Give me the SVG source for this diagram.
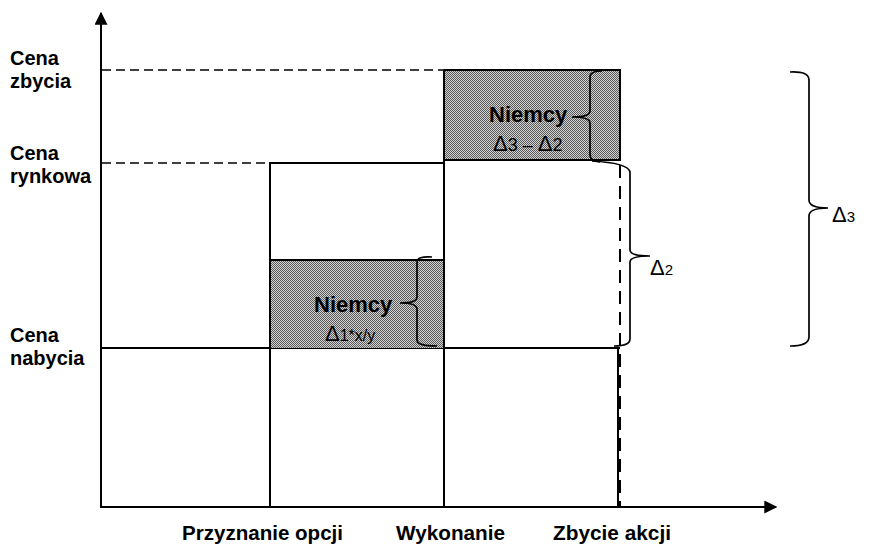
<svg xmlns="http://www.w3.org/2000/svg" width="877" height="546" viewBox="0 0 877 546">
  <style>
    .ln { stroke: #000; stroke-width: 2; fill: none; }
    .dash { stroke: #000; stroke-width: 1.3; fill: none; stroke-dasharray: 9 5; }
    .brace { stroke: #000; stroke-width: 1.7; fill: none; }
    .lbl { font-family: "Liberation Sans", Arial, sans-serif; font-weight: bold; font-size: 20px; fill: #000; }
    .axl { font-family: "Liberation Sans Narrow", "Liberation Sans", Arial, sans-serif; font-weight: bold; font-size: 20px; fill: #000; }
    .nm { font-family: "Liberation Sans", Arial, sans-serif; font-weight: bold; font-size: 22px; fill: #000; }
    .dl { font-family: "Liberation Sans", Arial, sans-serif; font-size: 22px; fill: #000; }
    .sub { font-size: 15px; }
    .big { font-size: 18px; }
    .mid { font-size: 16px; }
  </style>
  <defs>
    <pattern id="dither" width="2" height="2" patternUnits="userSpaceOnUse">
      <rect width="2" height="2" fill="#d2d2d2"/>
      <rect width="1" height="1" fill="#5a5a5a"/>
      <rect x="1" y="1" width="1" height="1" fill="#5a5a5a"/>
    </pattern>
    <marker id="arr" viewBox="0 0 10 10" refX="9" refY="5" markerWidth="6.5" markerHeight="6.5" orient="auto" markerUnits="strokeWidth">
      <path d="M0,0 L10,5 L0,10 Z" fill="#000"/>
    </marker>
  </defs>

  <!-- axes -->
  <g id="axes">
    <line class="ln" x1="101" y1="507" x2="101" y2="13" marker-end="url(#arr)"/>
    <line class="ln" x1="100" y1="507" x2="776" y2="507" marker-end="url(#arr)"/>
  </g>

  <!-- price levels -->
  <g id="levels">
    <line class="dash" x1="102" y1="70" x2="444" y2="70"/>
    <line class="dash" x1="102" y1="163" x2="270" y2="163"/>
    <line class="ln" x1="101" y1="348" x2="620" y2="348"/>
  </g>

  <!-- option grant block -->
  <g id="grant">
    <rect x="270" y="260" width="174" height="88" fill="url(#dither)"/>
    <polyline class="ln" points="270,507 270,163 444,163"/>
    <line class="ln" x1="270" y1="260" x2="444" y2="260"/>
  </g>

  <!-- exercise block -->
  <g id="exercise">
    <rect x="444" y="70" width="176" height="90" fill="url(#dither)"/>
    <line class="ln" x1="444" y1="70" x2="444" y2="507"/>
    <polyline class="ln" points="444,70 620,70 620,160 444,160"/>
    <line class="ln" x1="618" y1="348" x2="618" y2="507"/>
    <line class="ln" x1="620" y1="165" x2="620" y2="507" stroke-dasharray="13 8"/>
  </g>

  <!-- braces -->
  <g id="braces">
    <path class="brace" d="M432,257 Q417,256 417,262 L417,297 Q417,303 400,303 Q417,303 417,309 L417,340 Q417,346 437,346"/>
    <path class="brace" d="M602,71 Q590,71 590,77 L590,111 Q590,117 572,117 Q590,117 590,123 L590,155 Q590,161 600,162"/>
    <path class="brace" d="M592,161 Q628,163 630,172 L630,250 Q630,256 650,256 Q630,256 630,262 L630,339 Q630,346 614,346"/>
    <path class="brace" d="M790,72 Q809,71 809,80 L809,200 Q809,208 828,208 Q809,208 809,216 L809,337 Q809,346 790,346"/>
  </g>

  <!-- labels -->
  <g id="labels">
    <text class="lbl" x="10" y="65">Cena</text>
    <text class="lbl" x="10" y="88">zbycia</text>
    <text class="lbl" x="10" y="160">Cena</text>
    <text class="lbl" x="10" y="183">rynkowa</text>
    <text class="lbl" x="10" y="342">Cena</text>
    <text class="lbl" x="10" y="365">nabycia</text>

    <text class="axl" x="182" y="540" textLength="161" lengthAdjust="spacingAndGlyphs">Przyznanie opcji</text>
    <text class="axl" x="396" y="540" textLength="109" lengthAdjust="spacingAndGlyphs">Wykonanie</text>
    <text class="axl" x="553" y="540" textLength="118" lengthAdjust="spacingAndGlyphs">Zbycie akcji</text>

    <text class="nm" x="489" y="122">Niemcy</text>
    <text class="dl" x="493" y="151">Δ<tspan class="big">3 – </tspan>Δ<tspan class="big">2</tspan></text>
    <text class="nm" x="314" y="312">Niemcy</text>
    <text class="dl" x="325" y="341">Δ<tspan class="mid">1*x/y</tspan></text>

    <text class="dl" x="650" y="275">Δ<tspan class="sub">2</tspan></text>
    <text class="dl" x="832" y="222">Δ<tspan class="sub">3</tspan></text>
  </g>
</svg>
